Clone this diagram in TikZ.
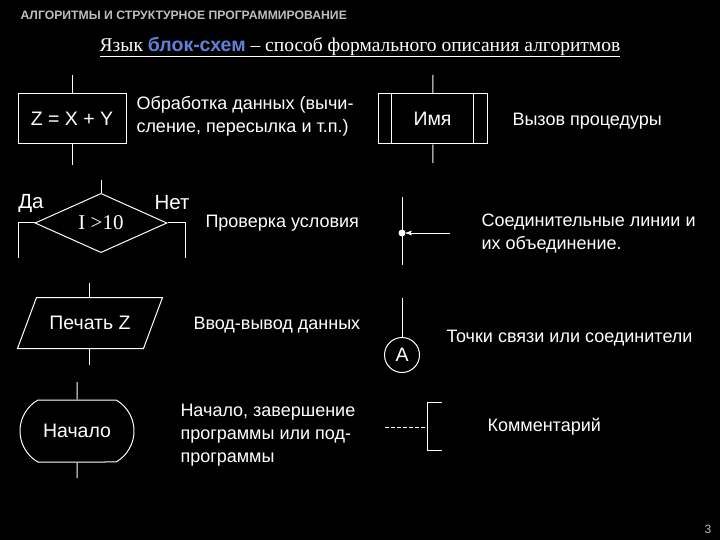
\documentclass[tikz,border=0pt]{standalone}
\usepackage{fontspec}
\setmainfont{Liberation Sans}
\newfontfamily\seriffont{Liberation Serif}
\usepackage{tikz}
\usetikzlibrary{arrows,shapes.geometric,shapes.misc}
\usetikzlibrary{positioning}
\definecolor{linkblue}{RGB}{95,130,215}
\definecolor{headgray}{RGB}{190,190,190}
\tikzset{
    block/.style={
      rectangle,
      draw=white,
      inner sep=2pt,
      text centered,
      font=\fontsize{19.5}{23}\selectfont,
    },
    descr/.style={
      anchor=west,
      align=left,
      inner sep=0pt,
    },
}

\begin{document}
\begin{tikzpicture}[x=1pt,y=-1pt,>=stealth',line width=1pt,white,
    font=\fontsize{18}{23}\selectfont]

    \fill[black] (0,0) rectangle (720,540);
    \useasboundingbox (0,0) rectangle (720,540);

    \node[anchor=west, text=headgray, inner sep=0pt,
    font=\bfseries\fontsize{12.2}{14}\selectfont] (Head) at (20,15)
    {АЛГОРИТМЫ И СТРУКТУРНОЕ ПРОГРАММИРОВАНИЕ};

    \node[font=\seriffont\fontsize{19.5}{22}\selectfont] (Title) at (360,47)
    {\underline{Язык {\rmfamily\bfseries\color{linkblue}блок-схем} – способ формального описания алгоритмов}};

    % process
    \node[block, minimum width=108, minimum height=50] (Calc) at (72,119)
    {Z = X + Y};
    \coordinate (Calc-in) at (72,75);
    \coordinate (Calc-out) at (72,165);
    \draw (Calc-in) -- (Calc);
    \draw (Calc) -- (Calc-out);

    \node[descr] (CalcText) at (136,116.5)
    {Обработка данных (вычи-\\сление, пересылка и т.п.)};

    % decision
    \node[diamond, draw, inner sep=0pt,
    minimum width=132, minimum height=56] (Cond) at (101,223)
    {\seriffont\fontsize{21}{23}\selectfont I >10};
    \coordinate (Cond-in) at (101,180);
    \coordinate (Yes-out) at (18,258);
    \coordinate (No-out) at (185,258);
    \draw (Cond-in) -- (Cond);
    \draw (Cond.west) -| (Yes-out);
    \draw (Cond.east) -| (No-out);

    \node[font=\fontsize{20.5}{23}\selectfont] (Yes) at (31,203) {Да};
    \node[font=\fontsize{20.5}{23}\selectfont] (No) at (172,203) {Нет};

    \node[descr] (CondText) at (205,223) {Проверка условия};

    % input / output
    \node[block, draw=none, minimum width=125, minimum height=50] (Print) at (90,323)
    {Печать Z};
    \draw ([xshift=9.5pt]Print.north west) -- ([xshift=9.5pt]Print.north east)
      -- ([xshift=-9.5pt]Print.south east) -- ([xshift=-9.5pt]Print.south west) -- cycle;
    \coordinate (Print-in) at (89,283);
    \coordinate (Print-out) at (89,365);
    \draw (Print-in) -- (Print-in |- Print.north);
    \draw (Print-out |- Print.south) -- (Print-out);

    \node[descr] (PrintText) at (193,325) {Ввод-вывод данных};

    % terminal
    \node[block, rounded rectangle, rounded rectangle arc length=120,
    minimum width=118, minimum height=62] (Start) at (77,431)
    {Начало};
    \coordinate (Start-in) at (77,382);
    \coordinate (Start-out) at (77,478);
    \draw (Start-in) -- (Start);
    \draw (Start) -- (Start-out);

    \node[descr] (StartText) at (180,435.5)
    {Начало, завершение\\программы или под-\\программы};

    % procedure call
    \node[block, minimum width=109, minimum height=50] (Proc) at (432.5,119)
    {Имя};
    \draw ([xshift=14pt]Proc.north west) -- ([xshift=14pt]Proc.south west);
    \draw ([xshift=-14pt]Proc.north east) -- ([xshift=-14pt]Proc.south east);
    \coordinate (Proc-in) at (433,75);
    \coordinate (Proc-out) at (433,163);
    \draw (Proc-in) -- (Proc);
    \draw (Proc) -- (Proc-out);

    \node[descr] (ProcText) at (512,121) {Вызов процедуры};

    % joining lines
    \node[circle, fill=white, inner sep=0pt, minimum size=7pt] (Join) at (402,233) {};
    \coordinate (Join-top) at (402,197);
    \coordinate (Join-bot) at (402,265);
    \coordinate (Join-in) at (450,233);
    \draw (Join-top) -- (Join-bot);
    \draw[->] (Join-in) -- (Join);

    \node[descr] (JoinText) at (481,233.5)
    {Соединительные линии и\\их объединение.};

    % connector
    \node[block, circle, inner sep=0pt, minimum size=35] (Conn) at (402,355) {A};
    \coordinate (Conn-in) at (402,298);
    \draw (Conn-in) -- (Conn);

    \node[descr] (ConnText) at (446,338) {Точки связи или соединители};

    % comment
    \coordinate (Note-a) at (442,402);
    \coordinate (Note-b) at (442,450);
    \coordinate (Note-stem) at (427,427);
    \coordinate (Note-in) at (385,427);
    \draw (Note-a) -- ++(-15,0) |- (Note-b);
    \draw[dash pattern=on 4pt off 2pt] (Note-in) -- (Note-stem);

    \node[descr] (NoteText) at (487,427) {Комментарий};

    \node[text=headgray, font=\fontsize{12}{14}\selectfont] (Page) at (708,529) {3};

\end{tikzpicture}
\end{document}
